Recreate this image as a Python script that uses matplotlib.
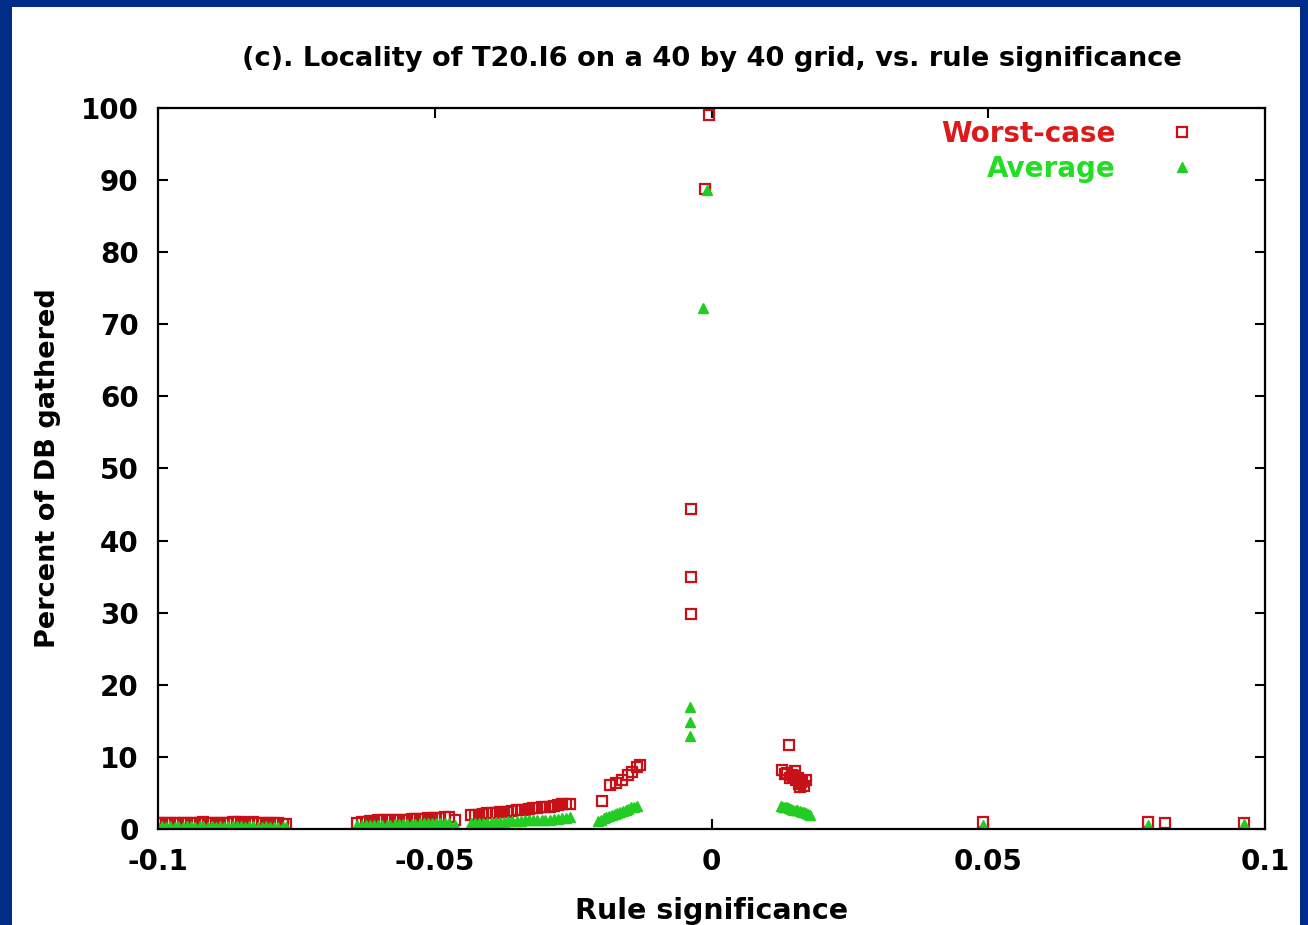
import matplotlib.pyplot as plt
from matplotlib.patches import Rectangle

# Worst-case points (rule significance, percent gathered)
worst_x = [-0.1, -0.0993, -0.0985, -0.0978, -0.097, -0.0963, -0.0955, -0.0948, -0.094,
           -0.0933, -0.0925, -0.0918, -0.091, -0.0903, -0.0895, -0.0888, -0.088, -0.0873,
           -0.0865, -0.0858, -0.085, -0.0843, -0.0835, -0.0828, -0.082, -0.0813, -0.0805,
           -0.0798, -0.079, -0.0783, -0.0775, -0.0768,
           -0.064, -0.0632, -0.0625, -0.0617, -0.061, -0.0602, -0.0595, -0.0587, -0.058,
           -0.0572, -0.0565, -0.0557, -0.055, -0.0542, -0.0535, -0.0527, -0.052, -0.0512,
           -0.0505, -0.0497, -0.049, -0.0482, -0.0475, -0.0463,
           -0.0435, -0.0428, -0.042, -0.0412, -0.0405, -0.0397, -0.039, -0.0382, -0.0375,
           -0.0367, -0.036, -0.0352, -0.0345, -0.0337, -0.033, -0.0322, -0.0315, -0.0307,
           -0.030, -0.0292, -0.0285, -0.0277, -0.027, -0.0262, -0.0255,
           -0.0198, -0.0183, -0.0172, -0.0162, -0.0151, -0.0144, -0.0135, -0.013,
           -0.0037, -0.0037, -0.0037, -0.0011, -0.0005,
           0.014, 0.0127, 0.0136, 0.0145, 0.0151, 0.0156, 0.0162, 0.0167, 0.016, 0.0153,
           0.0142, 0.017, 0.0132, 0.0148, 0.0158, 0.0164,
           0.049, 0.0789, 0.082, 0.0962]
worst_y = [0.8, 0.9, 0.8, 0.9, 0.8, 0.9, 0.8, 0.9, 0.9,
           0.8, 0.9, 1.0, 0.9, 0.8, 0.9, 0.9, 0.8, 0.9,
           1.0, 1.0, 1.0, 0.9, 0.9, 1.0, 0.9, 0.8, 0.9,
           0.8, 0.8, 0.8, 0.7, 0.7,
           0.9, 1.0, 1.0, 1.1, 1.1, 1.2, 1.2, 1.2, 1.2,
           1.3, 1.3, 1.3, 1.3, 1.4, 1.4, 1.4, 1.4, 1.5,
           1.5, 1.5, 1.5, 1.6, 1.6, 1.2,
           1.9, 2.0, 2.0, 2.1, 2.2, 2.2, 2.2, 2.3, 2.3,
           2.4, 2.5, 2.6, 2.6, 2.7, 2.8, 2.9, 2.9, 3.0,
           3.0, 3.1, 3.2, 3.3, 3.4, 3.4, 3.5,
           3.9, 6.1, 6.4, 6.8, 7.5, 7.9, 8.6, 8.9,
           44.4, 35.0, 29.8, 88.8, 99.0,
           11.7, 8.2, 7.8, 7.5, 8.0, 7.1, 6.5, 6.0, 5.8, 6.8,
           7.1, 6.8, 7.6, 7.3, 6.3, 6.6,
           1.0, 1.0, 0.9, 0.8]

# Average points
avg_x = [-0.1, -0.0993, -0.0985, -0.0978, -0.097, -0.0963, -0.0955, -0.0948, -0.094,
         -0.0933, -0.0925, -0.0918, -0.091, -0.0903, -0.0895, -0.0888, -0.088, -0.0873,
         -0.0865, -0.0858, -0.085, -0.0843, -0.0835, -0.0828, -0.082, -0.0813, -0.0805,
         -0.0798, -0.079, -0.0783, -0.0775, -0.0768,
         -0.064, -0.0632, -0.0625, -0.0617, -0.061, -0.0602, -0.0595, -0.0587, -0.058,
         -0.0572, -0.0565, -0.0557, -0.055, -0.0542, -0.0535, -0.0527, -0.052, -0.0512,
         -0.0505, -0.0497, -0.049, -0.0482, -0.0475, -0.0463,
         -0.0435, -0.0428, -0.042, -0.0412, -0.0405, -0.0397, -0.039, -0.0382, -0.0375,
         -0.0367, -0.036, -0.0352, -0.0345, -0.0337, -0.033, -0.0322, -0.0315, -0.0307,
         -0.030, -0.0292, -0.0285, -0.0277, -0.027, -0.0262, -0.0255,
         -0.0205, -0.02, -0.0195, -0.019, -0.0185, -0.018, -0.0175, -0.017, -0.0165,
         -0.016, -0.0155, -0.015, -0.0145, -0.014, -0.0135,
         -0.0039, -0.0039, -0.0039, -0.0015, -0.0009,
         0.0125, 0.0129, 0.0132, 0.0136, 0.014, 0.0144, 0.0148, 0.0152, 0.0155, 0.0159,
         0.0163, 0.0167, 0.017, 0.0174, 0.0178,
         0.049, 0.0789, 0.0962]
avg_y = [0.3, 0.4, 0.3, 0.4, 0.3, 0.4, 0.3, 0.4, 0.4,
         0.3, 0.4, 0.4, 0.3, 0.4, 0.3, 0.4, 0.3, 0.4,
         0.4, 0.4, 0.4, 0.3, 0.4, 0.4, 0.3, 0.3, 0.4,
         0.3, 0.3, 0.3, 0.3, 0.3,
         0.5, 0.5, 0.5, 0.6, 0.6, 0.6, 0.6, 0.6, 0.6,
         0.7, 0.7, 0.7, 0.7, 0.7, 0.7, 0.8, 0.8, 0.8,
         0.8, 0.8, 0.8, 0.9, 0.9, 0.5,
         0.8, 0.8, 0.9, 0.9, 0.9, 1.0, 1.0, 1.0, 1.0,
         1.1, 1.1, 1.1, 1.1, 1.2, 1.2, 1.2, 1.2, 1.3,
         1.3, 1.3, 1.4, 1.4, 1.5, 1.5, 1.6,
         1.1, 1.3, 1.5, 1.6, 1.8, 2.0, 2.1, 2.2, 2.4,
         2.5, 2.7, 2.8, 3.0, 3.1, 3.2,
         16.9, 14.8, 12.9, 72.3, 88.6,
         3.2, 3.1, 3.0, 3.0, 2.9, 2.8, 2.7, 2.7, 2.6, 2.5,
         2.4, 2.3, 2.2, 2.1, 2.0,
         0.5, 0.6, 0.7]

x_ticks = [-0.1, -0.05, 0, 0.05, 0.1]
x_tick_labels = ['-0.1', '-0.05', '0', '0.05', '0.1']
y_ticks = list(range(0, 101, 10))

plt.rcParams['font.family'] = 'DejaVu Sans'
plt.rcParams['font.weight'] = 'bold'

fig = plt.figure(figsize=(13.08, 9.25), dpi=100)
fig.patch.set_facecolor('#002d87')
fig.patches.append(Rectangle((12 / 1308, 0), 1288 / 1308, 918 / 925,
                             transform=fig.transFigure, facecolor='white',
                             edgecolor='none', zorder=-10))

ax = fig.add_axes([158 / 1308, 96 / 925, 1107 / 1308, 721 / 925])
ax.plot(worst_x, worst_y, linestyle='none', marker='s', markersize=7,
        markerfacecolor='none', markeredgecolor='#c81018', markeredgewidth=1.6,
        label='Worst-case')
ax.plot(avg_x, avg_y, linestyle='none', marker='^', markersize=7.5,
        color='#22cc22', label='Average')

ax.set_xlim(-0.1, 0.1)
ax.set_ylim(0, 100)
ax.set_xticks(x_ticks)
ax.set_xticklabels(x_tick_labels)
ax.set_yticks(y_ticks)
ax.tick_params(direction='in', length=7, width=1.5, top=True, right=True,
               labelsize=20, pad=14)
for s in ax.spines.values():
    s.set_linewidth(1.6)

ax.set_title('(c). Locality of T20.I6 on a 40 by 40 grid, vs. rule significance',
             fontsize=19.6, fontweight='bold', pad=30)
ax.set_xlabel('Rule significance', fontsize=20.5, fontweight='bold', labelpad=15)
ax.set_ylabel('Percent of DB gathered', fontsize=19.5, fontweight='bold', labelpad=14)

leg = ax.legend(loc='upper right', bbox_to_anchor=(0.973, 1.018), frameon=False,
                markerfirst=False, numpoints=1, fontsize=20, handletextpad=1.4,
                labelspacing=0.25, labelcolor=['#dd1a1a', '#22dd22'])

fig.savefig('out.png', dpi=100, facecolor=fig.get_facecolor())
